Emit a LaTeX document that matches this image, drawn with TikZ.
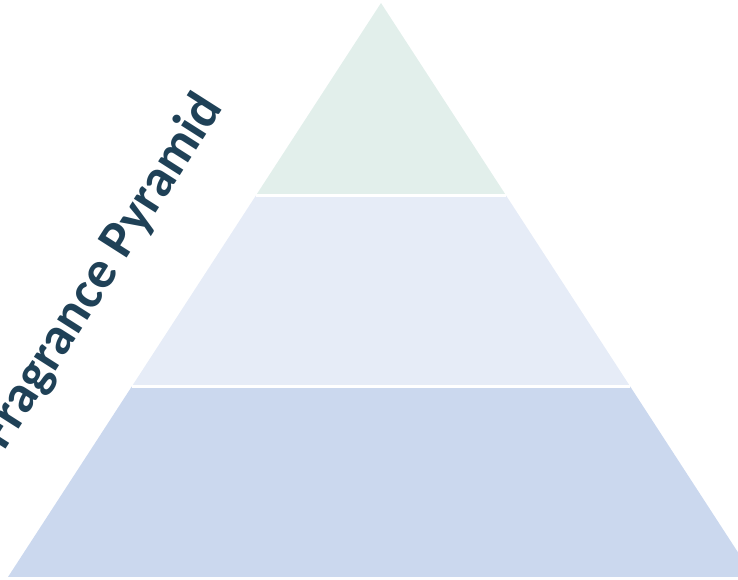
\documentclass[tikz,border=0pt]{standalone}
\usepackage{fontspec}
\setmainfont{Carlito}
\usetikzlibrary{calc}

\definecolor{topband}{RGB}{226,239,235}
\definecolor{midband}{RGB}{230,236,247}
\definecolor{lowband}{RGB}{203,216,238}
\definecolor{titleblue}{RGB}{31,65,87}

\begin{document}
\begin{tikzpicture}[
            x = 1pt, y = 1pt,
            band/.style = {draw = none}, % pyramid layers
            gap/.style = {draw = white, line width = 3pt}, % white seams
            title/.style = {text = titleblue, font = \bfseries\fontsize{53}{60}\selectfont, rotate = 57.5}
        ]
        \useasboundingbox (0,0) rectangle (738,580);
        \clip (0,0) rectangle (738,580);

        \coordinate (apex) at (381,577);
        \coordinate (bl) at (8,3);
        \coordinate (br) at (754,3);
        \coordinate (l1) at ($(apex)!0.335!(bl)$);
        \coordinate (r1) at ($(apex)!0.335!(br)$);
        \coordinate (l2) at ($(apex)!0.668!(bl)$);
        \coordinate (r2) at ($(apex)!0.668!(br)$);

        \fill[band, lowband] (l2) -- (r2) -- (br) -- (bl) -- cycle;
        \fill[band, midband] (l1) -- (r1) -- (r2) -- (l2) -- cycle;
        \fill[band, topband] (apex) -- (r1) -- (l1) -- cycle;
        \draw[gap] (l1) -- (r1);
        \draw[gap] (l2) -- (r2);

        \node[title] (heading) at (102,308) {Fragrance Pyramid};
    \end{tikzpicture}
\end{document}
